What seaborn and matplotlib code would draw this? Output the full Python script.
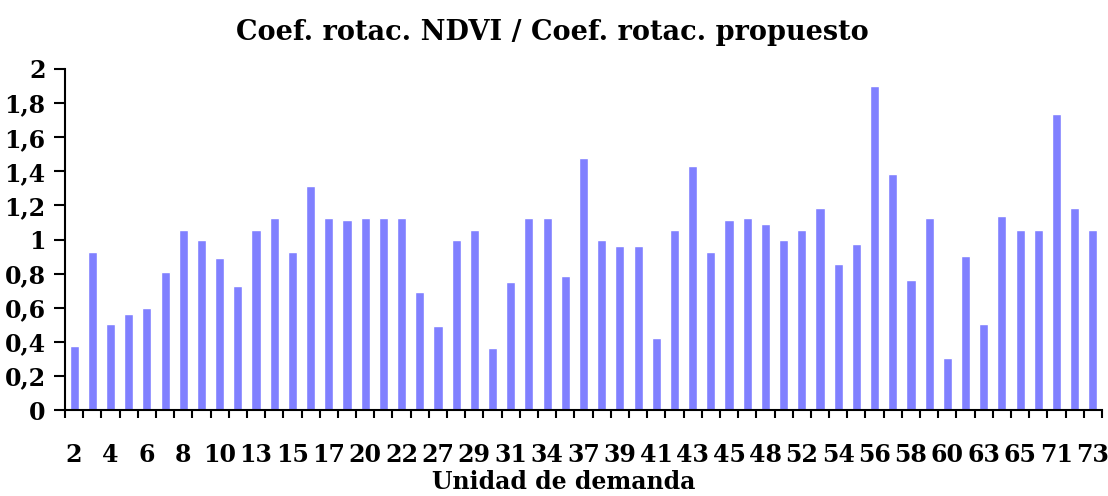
import matplotlib
matplotlib.use("Agg")
import matplotlib.pyplot as plt
import seaborn as sns
import pandas as pd
import numpy as np
from matplotlib.ticker import FixedLocator

units = ["2", "3", "4", "5", "6", "7", "8", "9", "10", "12",
         "13", "14", "15", "16", "17", "19", "20", "21", "22", "24",
         "27", "28", "29", "30", "31", "33", "34", "36", "37", "38",
         "39", "40", "41", "42", "43", "44", "45", "47", "48", "50",
         "52", "53", "54", "55", "56", "57", "58", "59", "60", "62",
         "63", "64", "65", "68", "71", "72", "73"]
ratio = [0.375, 0.927, 0.504, 0.563, 0.598, 0.809, 1.056, 0.997, 0.891, 0.727,
         1.056, 1.126, 0.927, 1.314, 1.126, 1.114, 1.126, 1.126, 1.126, 0.692,
         0.493, 0.997, 1.056, 0.364, 0.751, 1.126, 1.126, 0.786, 1.478, 0.997,
         0.962, 0.962, 0.422, 1.056, 1.431, 0.927, 1.114, 1.126, 1.091, 0.997,
         1.056, 1.185, 0.856, 0.974, 1.900, 1.384, 0.762, 1.126, 0.305, 0.903,
         0.504, 1.138, 1.056, 1.056, 1.736, 1.185, 1.056]
y_ticks = [0, 0.2, 0.4, 0.6, 0.8, 1, 1.2, 1.4, 1.6, 1.8, 2]
y_tick_labels = ["0", "0,2", "0,4", "0,6", "0,8", "1", "1,2", "1,4", "1,6", "1,8", "2"]

title = "Coef. rotac. NDVI / Coef. rotac. propuesto"
xlabel = "Unidad de demanda"

sns.set_style("white")
plt.rcParams["font.family"] = ["DejaVu Serif"]
plt.rcParams["font.weight"] = "bold"
plt.rcParams["text.color"] = "black"
plt.rcParams["axes.labelcolor"] = "black"
plt.rcParams["xtick.color"] = "black"
plt.rcParams["ytick.color"] = "black"

df = pd.DataFrame({"unidad": units, "ratio": ratio})

fig = plt.figure(figsize=(11.08, 4.96), dpi=100)
ax = fig.add_axes([65/1108, 1 - 410/496, (1102 - 65)/1108, (410 - 69)/496])

sns.barplot(data=df, x="unidad", y="ratio", order=units, color="#8080FF",
            saturation=1, width=0.5, ax=ax, errorbar=None)

n = len(units)
ax.set_xlim(-0.5, n - 0.5)
ax.set_ylim(0, 2)

# x: labels every other bar, ticks at category boundaries
ax.xaxis.set_major_locator(FixedLocator(list(range(0, n, 2))))
ax.set_xticklabels(units[::2], fontsize=17, fontweight="bold", color="black")
ax.xaxis.set_minor_locator(FixedLocator(list(np.arange(-0.5, n, 1.0))))
ax.tick_params(axis="x", which="major", length=0, pad=24)
ax.tick_params(axis="x", which="minor", length=6, width=1.5, direction="out", color="black", bottom=True)

ax.set_yticks(y_ticks)
ax.set_yticklabels(y_tick_labels, fontsize=17, fontweight="bold", color="black")
ax.tick_params(axis="y", length=8, width=1.5, direction="out", color="black", left=True, pad=6)

for side in ["top", "right"]:
    ax.spines[side].set_visible(False)
for side in ["left", "bottom"]:
    ax.spines[side].set_visible(True)
    ax.spines[side].set_color("black")
    ax.spines[side].set_linewidth(1.5)

ax.set_xlabel(xlabel, fontsize=17, fontweight="bold", color="black")
ax.xaxis.set_label_coords((564 - 65) / (1102 - 65), -(482 - 410) / (410 - 69))
ax.xaxis.label.set_va("center")
ax.set_ylabel("")
fig.text(552/1108, 1 - 33/496, title, ha="center", va="center", fontsize=19.5, fontweight="bold", color="black")

fig.savefig("out.png", dpi=100, facecolor="white")
